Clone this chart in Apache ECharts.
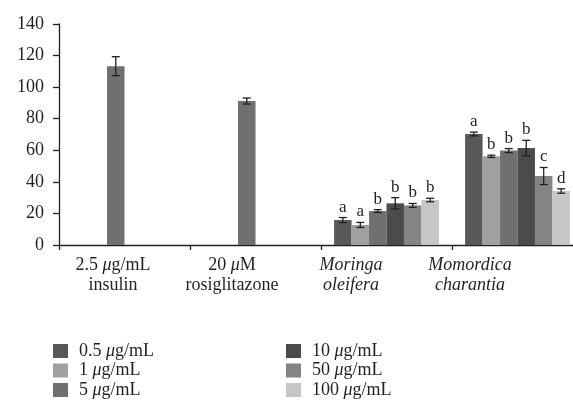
<!DOCTYPE html>
<html>
<head>
<meta charset="utf-8">
<script src="https://cdn.jsdelivr.net/npm/echarts@6/dist/echarts.min.js"></script>
<style>html,body{margin:0;padding:0;background:#fff}#c{width:573px;height:412px}</style>
</head>
<body>
<div id="c"></div>
<script>
// ---- data ----
const categories = ['2.5 μg/mL\ninsulin', '20 μM\nrosiglitazone', 'Moringa\noleifera', 'Momordica\ncharantia'];
const italicCategories = [false, false, true, true];
const seriesNames = ['0.5 μg/mL', '1 μg/mL', '5 μg/mL', '10 μg/mL', '50 μg/mL', '100 μg/mL'];
const yTicks = [0, 20, 40, 60, 80, 100, 120, 140];

const values_05  = [null, null, 15.8, 70.3];
const values_1   = [null, null, 12.7, 56.2];
const values_5   = [113.3, 91.2, 21.5, 59.8];
const values_10  = [null, null, 26.4, 61.4];
const values_50  = [null, null, 25.1, 43.7];
const values_100 = [null, null, 28.5, 34.2];

const errors_05  = [null, null, 1.6, 1.2];
const errors_1   = [null, null, 1.6, 0.7];
const errors_5   = [6.0, 1.9, 0.9, 1.3];
const errors_10  = [null, null, 3.6, 4.9];
const errors_50  = [null, null, 1.2, 5.4];
const errors_100 = [null, null, 1.1, 1.4];

const letters_05  = [null, null, 'a', 'a'];
const letters_1   = [null, null, 'a', 'b'];
const letters_5   = [null, null, 'b', 'b'];
const letters_10  = [null, null, 'b', 'b'];
const letters_50  = [null, null, 'b', 'c'];
const letters_100 = [null, null, 'b', 'd'];

// ---- styling ----
const colors = ['#58585a', '#a0a0a2', '#707072', '#4b4b4d', '#848486', '#c6c6c8'];
const FONT = 'Liberation Serif';
const INK = '#231f20';
const FS = 18;

const allValues = [values_05, values_1, values_5, values_10, values_50, values_100];
const allErrors = [errors_05, errors_1, errors_5, errors_10, errors_50, errors_100];
const allLetters = [letters_05, letters_1, letters_5, letters_10, letters_50, letters_100];

const errData = [];
const errLetters = [];
allValues.forEach((vals, s) => {
  vals.forEach((v, c) => {
    if (v != null) {
      errData.push([c, v, allErrors[s][c], s]);
      errLetters.push(allLetters[s][c]);
    }
  });
});

function muFmt(t) { return t.replace(/μ/g, '{mu|μ}'); }

const chart = echarts.init(document.getElementById('c'), null, { renderer: 'canvas' });

const barSeries = seriesNames.map((name, s) => ({
  name: name,
  type: 'bar',
  data: allValues[s],
  barGap: '0%',
  barCategoryGap: '20%',
  itemStyle: { color: colors[s] },
  silent: true
}));

const errSeries = {
  type: 'custom',
  name: 'err',
  silent: true,
  z: 10,
  data: errData,
  encode: { x: 0, y: 1 },
  renderItem: function (params, api) {
    const c = api.value(0), v = api.value(1), e = api.value(2), s = api.value(3);
    const band = api.size([1, 0])[0];
    const barW = band * 0.8 / 6;
    const base = api.coord([c, v]);
    const x = base[0] + (s - 2.5) * barW;
    const yTop = api.coord([c, v + e])[1];
    const yBot = api.coord([c, v - e])[1];
    const cap = 4;
    const st = { stroke: INK, lineWidth: 1.3 };
    const children = [
      { type: 'line', shape: { x1: x, y1: yTop, x2: x, y2: yBot }, style: st },
      { type: 'line', shape: { x1: x - cap, y1: yTop, x2: x + cap, y2: yTop }, style: st },
      { type: 'line', shape: { x1: x - cap, y1: yBot, x2: x + cap, y2: yBot }, style: st }
    ];
    const letter = errLetters[params.dataIndex];
    if (letter) {
      children.push({
        type: 'text',
        style: {
          text: letter, x: x, y: yTop - 2,
          align: 'center', verticalAlign: 'bottom',
          fontFamily: FONT, fontSize: 17, fill: INK
        }
      });
    }
    return { type: 'group', children: children };
  }
};

function legendCfg(names, left) {
  return {
    data: names,
    orient: 'vertical',
    left: left,
    top: 342,
    padding: 0,
    itemWidth: 15,
    itemHeight: 14,
    itemGap: 1.5,
    icon: 'rect',
    selectedMode: false,
    formatter: muFmt,
    textStyle: {
      fontFamily: FONT, fontSize: FS, color: INK, lineHeight: 14, padding: [0, 0, 0, 6],
      rich: { mu: { fontStyle: 'italic', fontFamily: FONT, fontSize: FS, color: INK, lineHeight: 14 } }
    }
  };
}

chart.setOption({
  animation: false,
  backgroundColor: '#fff',
  color: colors,
  legend: [legendCfg(seriesNames.slice(0, 3), 53), legendCfg(seriesNames.slice(3), 286)],
  grid: [
    { left: 59, top: 24, height: 221, width: 524, containLabel: false, outerBoundsMode: 'none' },
    { left: 53.5, top: 24, height: 221, width: 476, containLabel: false, outerBoundsMode: 'none' }
  ],
  xAxis: [{
    type: 'category',
    gridIndex: 0,
    data: categories,
    axisLine: { lineStyle: { color: INK, width: 1.3 } },
    axisTick: { show: true, length: 5, lineStyle: { color: INK, width: 1.3 } },
    axisLabel: { show: false },
    splitLine: { show: false }
  }, {
    type: 'category',
    gridIndex: 1,
    data: categories,
    axisLine: { show: false },
    axisTick: { show: false },
    axisLabel: {
      margin: 10,
      lineHeight: 20,
      interval: 0,
      color: INK,
      fontFamily: FONT,
      fontSize: FS,
      formatter: function (val, idx) {
        if (italicCategories[idx]) {
          return val.split('\n').map(l => '{it|' + l + '}').join('\n');
        }
        return muFmt(val);
      },
      rich: {
        mu: { fontStyle: 'italic', fontFamily: FONT, fontSize: FS, color: INK, lineHeight: 20 },
        it: { fontStyle: 'italic', fontFamily: FONT, fontSize: FS, color: INK, lineHeight: 20 }
      }
    },
    splitLine: { show: false }
  }],
  yAxis: [{
    type: 'value',
    gridIndex: 0,
    min: yTicks[0],
    max: yTicks[yTicks.length - 1],
    interval: 20,
    axisLine: { show: true, lineStyle: { color: INK, width: 1.3 } },
    axisTick: { show: true, length: 6, lineStyle: { color: INK, width: 1.3 } },
    axisLabel: { margin: 15, color: INK, fontFamily: FONT, fontSize: FS },
    splitLine: { show: false }
  }, {
    type: 'value',
    gridIndex: 1,
    min: 0, max: 140, interval: 20,
    show: false
  }],
  series: barSeries.concat([errSeries])
});
</script>
</body>
</html>
